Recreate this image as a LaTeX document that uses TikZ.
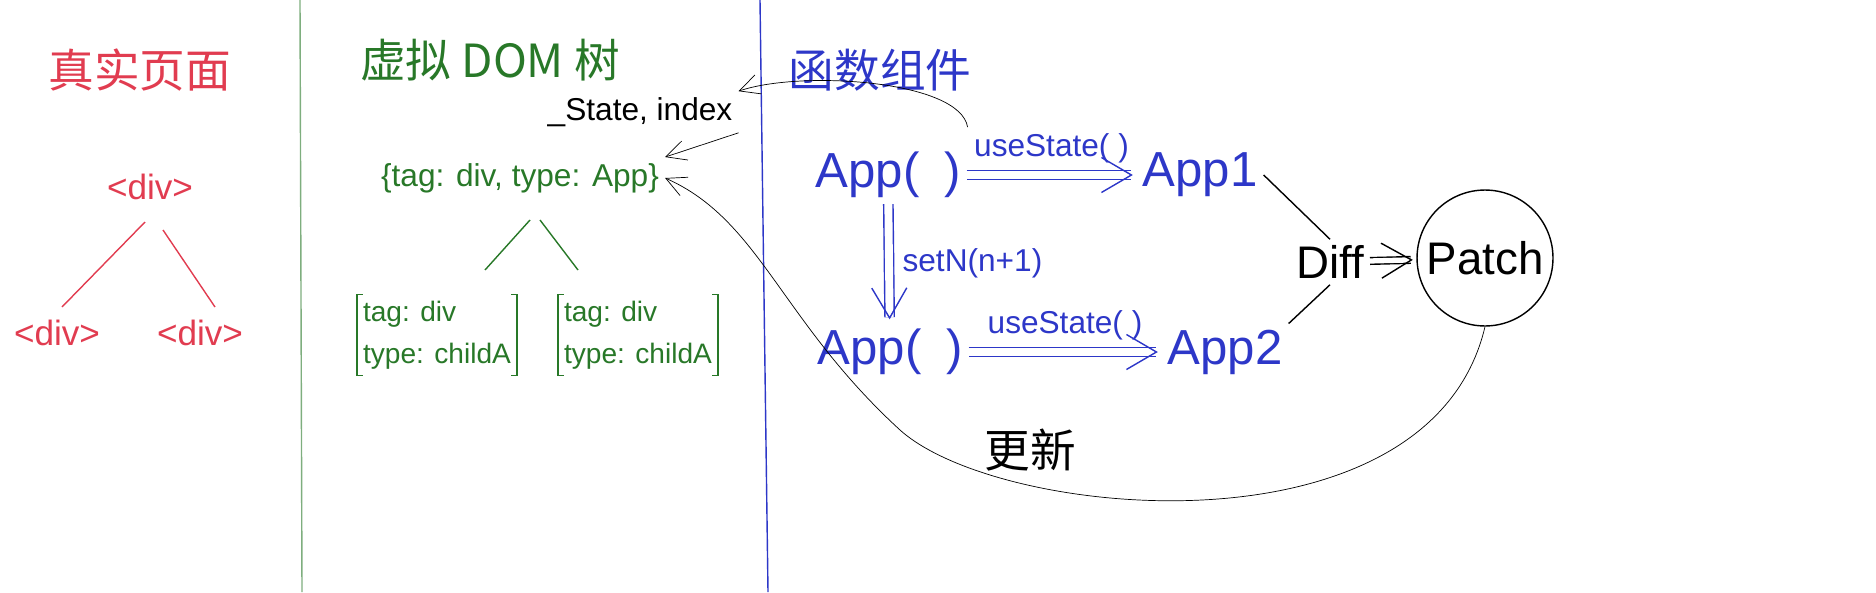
\documentclass[tikz,border=0pt]{standalone}
\usepackage{fontspec}
\setmainfont{Liberation Sans}
\newfontfamily\cjk{Noto Sans CJK SC}
\usetikzlibrary{positioning, arrows.meta, calc}
\definecolor{myred}{RGB}{225, 60, 80}
\definecolor{mygreen}{RGB}{40, 120, 40}
\definecolor{myblue}{RGB}{45, 55, 200}

\begin{document}
\begin{tikzpicture}[x=0.02cm, y=-0.02cm,
   every node/.style  = {font=\fontsize{18}{20}\selectfont},
   realNode/.style    = {text=myred, font=\fontsize{20}{22}\selectfont},
   vdomNode/.style    = {text=mygreen, align=left, font=\fontsize{16}{24}\selectfont},
   funcNode/.style    = {text=myblue, font=\fontsize{28}{30}\selectfont},
   labelNode/.style   = {text=myblue, font=\fontsize{18}{20}\selectfont},
   titleNode/.style   = {font=\fontsize{26}{28}\selectfont\cjk},
   myarrow/.style     = {-{Straight Barb[length=4mm, width=4mm]}},
   dblarrow/.style    = {double, double distance=4.5pt, thick, -{Straight Barb[length=6mm, width=7mm]}, myblue, shorten >=2pt}
]
    \useasboundingbox (0,0) rectangle (1876,592);
    % dividers
    \draw[mygreen!60, thick] (300,0) -- (302,592);
    \draw[myblue, thick] (760,0) -- (768,592);

    % real page
    \node[titleNode, text=myred] (realtitle) at (140,70) {真实页面};
    \node[realNode] (rdiv) at (150,187) {<div>};
    \node[realNode] (rdivl) at (57,333) {<div>};
    \node[realNode] (rdivr) at (200,333) {<div>};
    \draw[myred, thick] (145,222) -- (62,307);
    \draw[myred, thick] (163,230) -- (215,307);

    % virtual dom
    \node[titleNode, text=mygreen] (vtitle) at (490,60) {虚拟 DOM 树};
    \node (stateidx) at (640,112) {\_State, index};
    \node[vdomNode, font=\fontsize{18}{20}\selectfont] (vroot) at (520,178) {\{tag: div, type: App\}};
    \draw[mygreen, thick] (530,220) -- (485,270);
    \draw[mygreen, thick] (540,220) -- (578,270);
    \node[vdomNode] (childa) at (437,335) {tag: div\\type: childA};
    \node[vdomNode] (childb) at (638,335) {tag: div\\type: childA};
    \foreach \n in {childa, childb} {
      \draw[mygreen, thick] ($(\n.north west)+(6,0)$) -- ($(\n.north west)$) -- ($(\n.south west)$) -- ($(\n.south west)+(6,0)$);
      \draw[mygreen, thick] ($(\n.north east)+(-6,0)$) -- ($(\n.north east)$) -- ($(\n.south east)$) -- ($(\n.south east)+(-6,0)$);
    }
    \draw[myarrow] (stateidx.south east) -- (vroot.north east);

    % function component
    \node[titleNode, text=myblue] (ftitle) at (880,70) {函数组件};
    \node[funcNode] (app) at (888,175) {App(\,\,\,)};
    \node[funcNode] (app1) at (1200,175) {App1};
    \node[funcNode] (appb) at (890,352) {App(\,\,\,)};
    \node[funcNode] (app2) at (1225,352) {App2};
    \draw[dblarrow] (app) -- node[above=3pt, labelNode] (us1) {useState( )} (app1);
    \draw[dblarrow] (appb) -- node[above=3pt, labelNode] (us2) {useState( )} (app2);
    \draw[dblarrow] (app) -- node[right=4pt, labelNode] (setn) {setN(n+1)} (appb);

    \node[font=\fontsize{26}{28}\selectfont] (diff) at (1330,262) {Diff};
    \node[draw, circle, thick, minimum size=2.4cm, font=\fontsize{26}{28}\selectfont] (patch) at (1485,258) {Patch};
    \draw[thick] (app1.east) -- (diff.north);
    \draw[thick] (app2.north east) -- (diff.south);
    \draw[dblarrow, black, double distance=3pt] (diff) -- (patch);

    \node[titleNode] (update) at (1030,450) {更新};
    \draw[myarrow, thin] (patch.south) .. controls (1430,560) and (1000,520) .. (900,430)
        .. controls (780,320) and (760,220) .. (vroot.east);
    \draw[myarrow, thin] (us1.north west) .. controls (960,80) and (800,70) .. (stateidx.north east);
\end{tikzpicture}
\end{document}
